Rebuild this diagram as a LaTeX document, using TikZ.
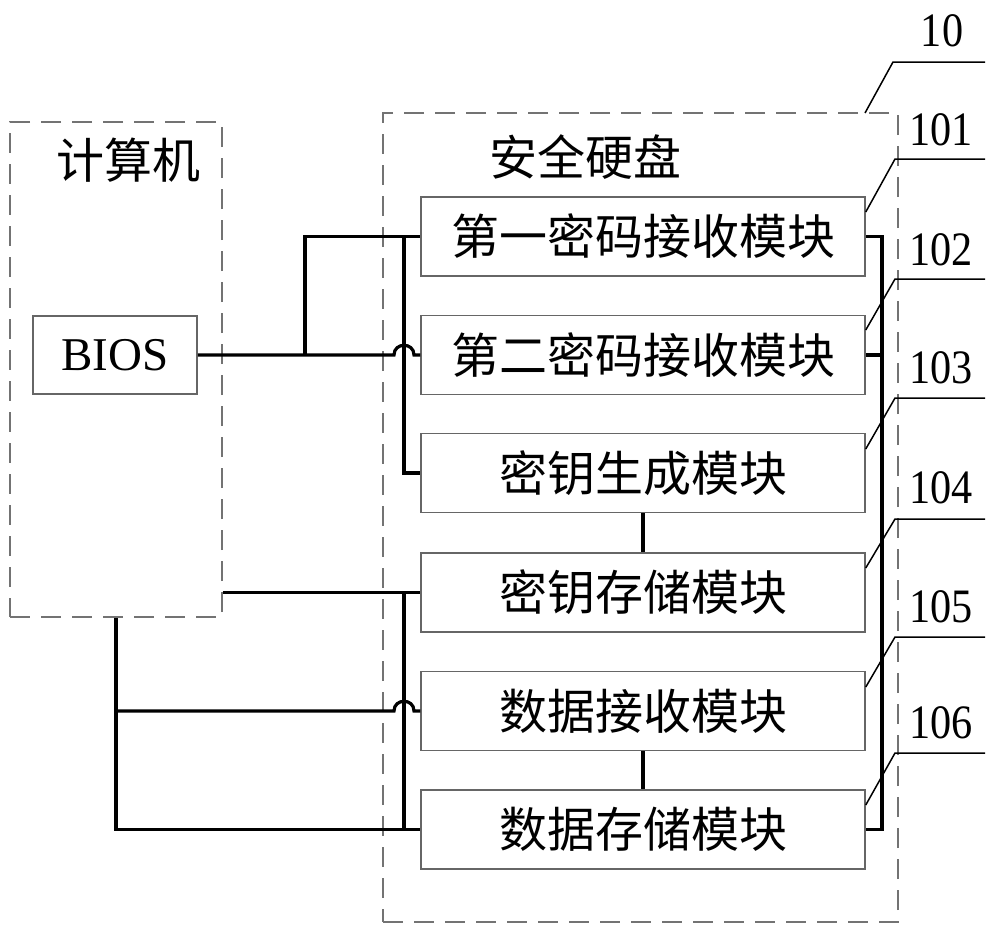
\documentclass[tikz,border=0pt]{standalone}
\usepackage{fontspec}
\setmainfont{Liberation Serif}
\newfontfamily\cjk{Noto Sans CJK SC}
\newfontfamily\numfont{Liberation Serif}[FakeStretch=0.88]
\begin{document}
\begin{tikzpicture}[x=1pt,y=-1pt,
  outline/.style={draw=black!55, dash pattern=on 20pt off 11pt, line width=1.5pt, inner sep=0pt},
  module/.style={draw=black!60, line width=1.5pt, minimum width=444pt, minimum height=79pt,
    inner sep=0pt, font=\cjk\fontsize{48}{52}\selectfont},
  wire/.style={line width=3.2pt, line join=miter},
  lead/.style={line width=1.5pt},
  refno/.style={anchor=base, inner sep=0pt, font=\numfont\fontsize{48}{52}\selectfont},
  title/.style={inner sep=0pt, font=\cjk\fontsize{48}{52}\selectfont}]
\useasboundingbox (0,0) rectangle (1000,935);

% enclosures
\node[outline, minimum width=212pt, minimum height=495pt] (pc) at (116,369.5) {};
\node[title] (pcname) at (128,160) {计算机};
\node[outline, minimum width=515pt, minimum height=809pt] (disk) at (640.5,517.5) {};
\node[title] (diskname) at (585,157) {安全硬盘};

% BIOS
\node[draw=black!60, line width=1.5pt, minimum width=164pt, minimum height=78pt,
  inner sep=0pt, font=\fontsize{47}{50}\selectfont] (bios) at (115,355) {BIOS};

% modules
\node[module] (m1) at (643,236.5) {第一密码接收模块};
\node[module] (m2) at (643,355)   {第二密码接收模块};
\node[module] (m3) at (643,473)   {密钥生成模块};
\node[module] (m4) at (643,592.5) {密钥存储模块};
\node[module] (m5) at (643,711)   {数据接收模块};
\node[module] (m6) at (643,829.5) {数据存储模块};

% junction points
\coordinate (jb) at (305,355);
\coordinate (ja) at (404,236.5);
\coordinate (jc) at (404,592.5);
\coordinate (bus) at (882,829.5);

% left side wiring
\draw[wire] (bios.east) -- (394,355) .. controls (394,342) and (414,342) .. (414,355) -- (m2.west);
\draw[wire] (jb) |- (m1.west);
\draw[wire] (ja) |- (m3.west);
\draw[wire] (pc.east |- m4.west) -- (m4.west);
\draw[wire] (jc) |- (m6.west);
\draw[wire] (pc.south) |- (m6.west);
\draw[wire] (pc.south |- m5.west) -- (394,711) .. controls (394,698) and (414,698) .. (414,711) -- (m5.west);

% module links
\draw[wire] (m3.south) -- (m4.north);
\draw[wire] (m5.south) -- (m6.north);

% right bus
\draw[wire] (m1.east) -| (bus) -- (m6.east);
\draw[wire] (m2.east) -- (m2.east -| bus);

% reference numerals
\draw[lead] (865,113) -- (893,62) -- (985,62);
\node[refno] (r10) at (942,46) {10};
\draw[lead] (m1.east |- 0,212) -- (895,159) -- (985,159);
\node[refno] (r101) at (941,145) {101};
\draw[lead] (m2.east |- 0,330) -- (895,279) -- (985,279);
\node[refno] (r102) at (941,265) {102};
\draw[lead] (m3.east |- 0,449) -- (895,398) -- (985,398);
\node[refno] (r103) at (941,383) {103};
\draw[lead] (m4.east |- 0,568) -- (895,519) -- (985,519);
\node[refno] (r104) at (941,503) {104};
\draw[lead] (m5.east |- 0,687) -- (895,637) -- (985,637);
\node[refno] (r105) at (941,622) {105};
\draw[lead] (m6.east |- 0,805) -- (895,753) -- (985,753);
\node[refno] (r106) at (941,738) {106};
\end{tikzpicture}
\end{document}
